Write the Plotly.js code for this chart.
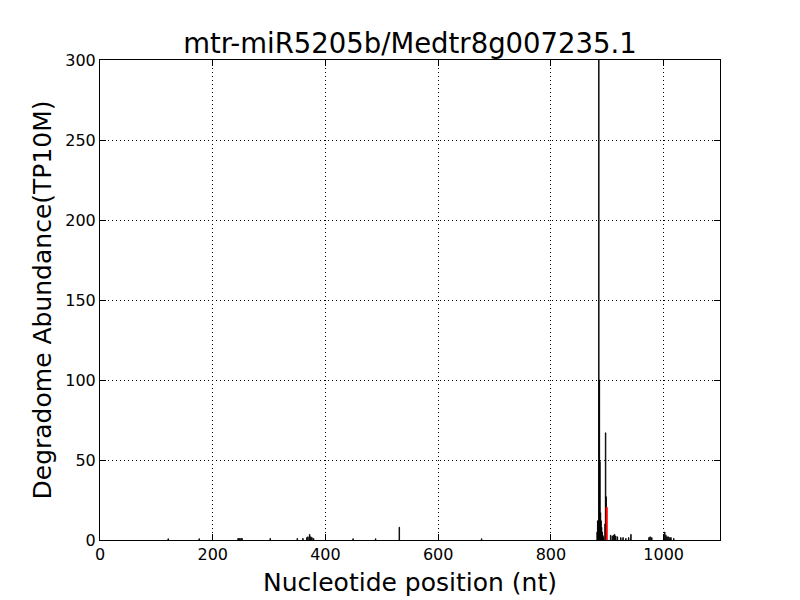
<!DOCTYPE html>
<html>
<head>
<meta charset="utf-8">
<script src="https://cdn.plot.ly/plotly-3.0.1.min.js"></script>
<style>html,body{margin:0;padding:0;background:#fff;}#chart{width:800px;height:600px;}</style>
</head>
<body>
<div id="chart"></div>
<script>
// Degradome read positions (nt) and abundance (TP10M)
const positions = [121, 176, 245, 247, 250, 252, 302, 350, 360, 367, 369, 372, 374, 376, 379, 449, 489, 531, 677,
  882, 883, 884, 885, 886, 887, 888, 889, 890, 891, 892, 893, 896, 897, 898,
  906, 909, 911, 913, 915, 918, 924, 928, 933, 938, 942, 974, 976, 979,
  1002, 1004, 1006, 1008, 1011, 1013, 1018];
const abundance = [0.8, 0.8, 1, 1, 1, 1, 1, 1, 1, 1.5, 2, 3.5, 2, 1.5, 1, 0.8, 0.8, 8, 0.8,
  5, 12, 12, 330, 100, 49, 17, 12, 8, 5, 3, 2, 10, 67, 27,
  3, 2.5, 3, 3.5, 2.5, 2, 1.5, 1.5, 1, 1.5, 3.5, 1.5, 2, 1.5,
  5, 3, 2, 2, 1.5, 1.5, 1];
const cleavagePos = [899];
const cleavageVal = [20];

const titleText = 'mtr-miR5205b/Medtr8g007235.1';
const xLabel = 'Nucleotide position (nt)';
const yLabel = 'Degradome Abundance(TP10M)';
const xTicks = [0, 200, 400, 600, 800, 1000];
const yTicks = [0, 50, 100, 150, 200, 250, 300];

const font = 'DejaVu Sans, sans-serif';
const traces = [
  {type: 'bar', x: positions, y: abundance, width: 1,
   marker: {color: '#000', line: {color: '#000', width: 0.8}}, hoverinfo: 'x+y'},
  {type: 'bar', x: cleavagePos, y: cleavageVal, width: 1,
   marker: {color: '#ff0000', line: {color: '#ff0000', width: 1.6}}, hoverinfo: 'x+y'}
];
const axisCommon = {
  showline: true, linecolor: '#000', linewidth: 1, mirror: 'ticks',
  ticks: 'inside', ticklen: 6, tickwidth: 1, tickcolor: '#000',
  showgrid: true, gridcolor: '#000', gridwidth: 1, griddash: '1px,3px',
  zeroline: false, tickfont: {family: font, size: 16, color: '#000'}
};
const layout = {
  width: 800, height: 600,
  margin: {l: 100, r: 80, t: 60, b: 60},
  paper_bgcolor: '#fff', plot_bgcolor: '#fff',
  showlegend: false, barmode: 'overlay', bargap: 0,
  title: {text: titleText, font: {family: font, size: 27.5, color: '#000'},
          x: 0.5125, xanchor: 'center', y: 0.927, yanchor: 'middle'},
  xaxis: Object.assign({}, axisCommon, {
    range: [0, 1100], tickvals: xTicks, ticktext: xTicks.map(String),
    title: {text: xLabel, font: {family: font, size: 25, color: '#000'}, standoff: 10}
  }),
  yaxis: Object.assign({}, axisCommon, {
    range: [0, 300], tickvals: yTicks, ticktext: yTicks.map(String),
    title: {text: yLabel, font: {family: font, size: 25, color: '#000'}, standoff: 6}
  })
};
Plotly.newPlot('chart', traces, layout, {displayModeBar: false, staticPlot: true});
</script>
</body>
</html>
